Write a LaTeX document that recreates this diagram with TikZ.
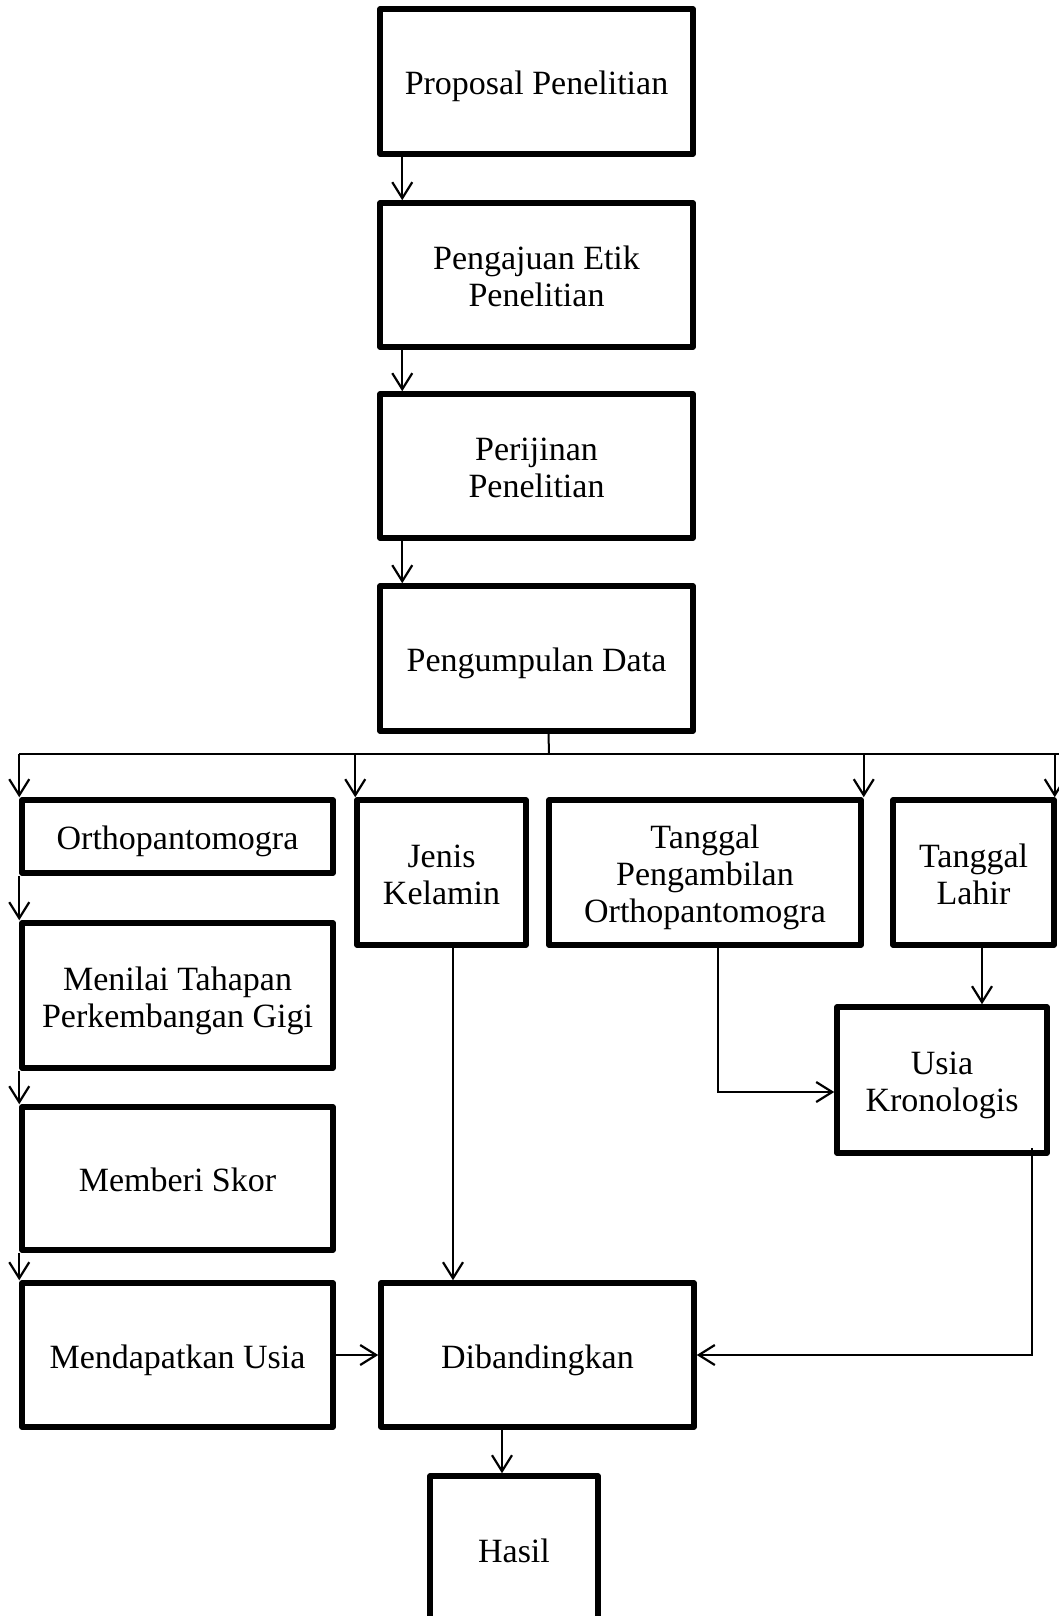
\documentclass[tikz,border=0pt]{standalone}
\usepackage{fontspec}
\setmainfont{Liberation Serif}
\usetikzlibrary{arrows.meta,calc}
\tikzset{
  box/.style={draw, line width=2.75pt, line join=round, align=center, inner sep=0pt,
    font=\fontsize{17}{18.5}\selectfont},
  arr/.style={line width=1pt, -{Straight Barb[length=8pt,width=10pt,line width=1.1pt]}},
  conn/.style={line width=1pt}
}
\newcommand\mybox[6]{\node[box, minimum width={(#4-#2)*0.5pt}, minimum height={(#5-#3)*0.5pt}] (#1) at ({(#2+#4)/2},{(#3+#5)/2}) {\raisebox{-3pt}[\height][\depth]{\begin{tabular}{@{}c@{}}#6\end{tabular}}};}
\begin{document}
\begin{tikzpicture}[x=0.5pt,y=-0.5pt]
\useasboundingbox (0,0) rectangle (1059,1616);
\mybox{b1}{380}{9}{693}{154}{Proposal Penelitian}
\mybox{b2}{380}{203}{693}{347}{Pengajuan Etik\\Penelitian}
\mybox{b3}{380}{394}{693}{538}{Perijinan\\Penelitian}
\mybox{b4}{380}{586}{693}{731}{Pengumpulan Data}
\mybox{o1}{22}{800}{333}{873}{Orthopantomogra}
\mybox{jk}{357}{800}{526}{945}{Jenis\\Kelamin}
\mybox{tp}{549}{800}{861}{945}{Tanggal\\Pengambilan\\Orthopantomogra}
\mybox{tl}{893}{800}{1054}{945}{Tanggal\\Lahir}
\mybox{mt}{22}{923}{333}{1068}{Menilai Tahapan\\Perkembangan Gigi}
\mybox{ms}{22}{1107}{333}{1250}{Memberi Skor}
\mybox{mu}{22}{1283}{333}{1427}{Mendapatkan Usia}
\mybox{db}{381}{1283}{694}{1427}{Dibandingkan}
\mybox{uk}{837}{1007}{1047}{1153}{Usia\\Kronologis}
\mybox{hs}{430}{1476}{598}{1622}{Hasil}
% top chain
\draw[arr] ([xshift=12.5pt]b1.south west) -- ([xshift=12.5pt]b2.north west);
\draw[arr] ([xshift=12.5pt]b2.south west) -- ([xshift=12.5pt]b3.north west);
\draw[arr] ([xshift=12.5pt]b3.south west) -- ([xshift=12.5pt]b4.north west);
% fan out
\coordinate (hub) at (549,754);
\coordinate (hubR) at (1059,754);
\draw[conn] ([xshift=6pt]b4.south) -- (hub);
\draw[conn] (o1.north west |- hub) -- (hubR);
\draw[arr] (o1.north west |- hub) -- (o1.north west);
\draw[arr] ([xshift=0.5pt]jk.north west |- hub) -- ([xshift=0.5pt]jk.north west);
\draw[arr] (tp.north east |- hub) -- (tp.north east);
\draw[arr] ([xshift=-1pt]tl.north east |- hub) -- ([xshift=-1pt]tl.north east);
% left column
\draw[arr] (o1.south west) -- (mt.north west);
\draw[arr] (mt.south west) -- (ms.north west);
\draw[arr] (ms.south west) -- (mu.north west);
\draw[arr] (mu.east) -- (db.west);
% jenis kelamin
\draw[arr] ([xshift=5.75pt]jk.south) -- ([xshift=5.75pt]jk.south |- db.north);
% tanggal pengambilan -> usia
\draw[arr] ([xshift=6.5pt]tp.south) |- ([yshift=-6pt]uk.west);
% tanggal lahir -> usia
\draw[arr] ([xshift=4.25pt]tl.south) -- ([xshift=4.25pt]tl.south |- uk.north);
% usia -> dibandingkan
\draw[arr] ([xshift=-9pt,yshift=4pt]uk.south east) |- (db.east);
% dibandingkan -> hasil
\draw[arr] ([xshift=-6pt]hs.north |- db.south) -- ([xshift=-6pt]hs.north);
\end{tikzpicture}
\end{document}
